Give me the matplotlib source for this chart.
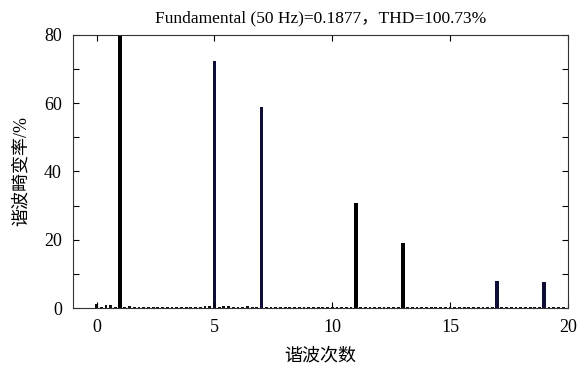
import numpy as np
import matplotlib.pyplot as plt
from matplotlib.ticker import MultipleLocator

plt.rcParams['font.family'] = ['Liberation Serif', 'Noto Sans CJK SC']

# main harmonic components (% of fundamental)
harm_orders = [1, 5, 7, 11, 13, 17, 19]
harm_values = [100.0, 72.5, 59.0, 30.9, 19.1, 8.0, 7.6]
harm_dark = [False, True, True, False, False, True, True]

# background spectrum, 0.2 order spacing from 0 to 19.8
bg_orders = np.round(np.arange(0, 20, 0.2), 1)
bg_values = [1.2, 0.3, 0.8, 0.8, 0.3, 0.0, 0.3, 0.6, 0.4, 0.3,
             0.2, 0.3, 0.2, 0.2, 0.3, 0.2, 0.2, 0.3, 0.2, 0.2,
             0.3, 0.2, 0.3, 0.6, 0.7, 0.0, 0.3, 0.6, 0.5, 0.3,
             0.2, 0.4, 0.5, 0.2, 0.2, 0.0, 0.3, 0.2, 0.2, 0.3,
             0.2, 0.2, 0.3, 0.2, 0.2, 0.3, 0.2, 0.3, 0.2, 0.2,
             0.4, 0.2, 0.2, 0.3, 0.2, 0.0, 0.3, 0.2, 0.2, 0.3,
             0.2, 0.2, 0.3, 0.2, 0.2, 0.0, 0.2, 0.3, 0.2, 0.2,
             0.3, 0.2, 0.2, 0.3, 0.2, 0.4, 0.2, 0.3, 0.2, 0.2,
             0.3, 0.2, 0.3, 0.2, 0.2, 0.0, 0.3, 0.2, 0.2, 0.3,
             0.2, 0.2, 0.3, 0.2, 0.2, 0.0, 0.3, 0.2, 0.3, 0.2]

fig = plt.figure(figsize=(5.8, 3.72), dpi=100)
ax = fig.add_axes([0.126, 0.172, 0.853, 0.734])

ax.bar(bg_orders, bg_values, width=0.12, color='#111111')
cols = ['#0d0d35' if d else 'black' for d in harm_dark]
ax.bar(harm_orders, harm_values, width=0.15, color=cols)

ax.set_xlim(-1, 20)
ax.set_ylim(0, 80)
ax.set_xticks([0, 5, 10, 15, 20])
ax.yaxis.set_major_locator(MultipleLocator(20))
ax.yaxis.set_minor_locator(MultipleLocator(10))
ax.tick_params(which='both', direction='in', top=True, right=True,
               labelsize=13, length=4, width=0.8)
ax.tick_params(axis='x', pad=8)
ax.tick_params(axis='y', pad=8)
for s in ax.spines.values():
    s.set_linewidth(0.8)
    s.set_color('#333333')

ax.set_title('Fundamental (50 Hz)=0.1877，THD=100.73%', fontsize=12.5, pad=9)
ax.set_xlabel('谐波次数', fontsize=13, labelpad=8)
ax.set_ylabel('谐波畸变率/%', fontsize=13, labelpad=10)

fig.savefig('out.png', dpi=100)
